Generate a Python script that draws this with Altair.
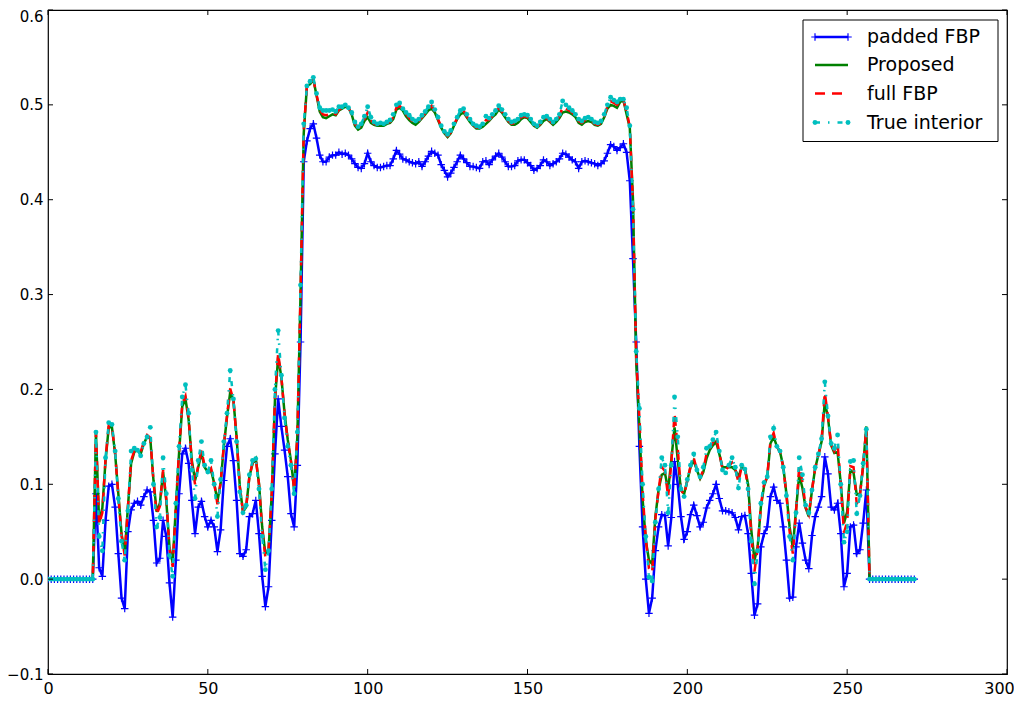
import altair as alt
import pandas as pd

# ---------------- data ----------------
x_index = list(range(272))

zeros_left = [0.0, 0.0, 0.0, 0.0, 0.0, 0.0, 0.0, 0.0, 0.0, 0.0, 0.0, 0.0, 0.0, 0.0, 0.0]
zeros_right = [0.0, 0.0, 0.0, 0.0, 0.0, 0.0, 0.0, 0.0, 0.0, 0.0, 0.0, 0.0, 0.0, 0.0, 0.0]

padded_core = [
    0.090, 0.012, 0.003, 0.062, 0.098, 0.100, 0.076, 0.027, -0.020, -0.031,
    0.050, 0.073, 0.080, 0.082, 0.078, 0.087, 0.094, 0.092, 0.062, 0.017,
    0.022, 0.062, 0.045, -0.004, -0.040, 0.020, 0.090, 0.132, 0.138, 0.122,
    0.083, 0.048, 0.076, 0.082, 0.066, 0.055, 0.062, 0.055, 0.029, 0.052,
    0.104, 0.140, 0.148, 0.125, 0.083, 0.027, 0.024, 0.031, 0.066, 0.069,
    0.083, 0.048, 0.003, -0.029, -0.008, 0.062, 0.132, 0.190, 0.161, 0.136,
    0.108, 0.069, 0.055, 0.120, 0.250, 0.440, 0.462, 0.475, 0.480, 0.465,
    0.447, 0.440, 0.440, 0.445, 0.447, 0.447, 0.450, 0.448, 0.449, 0.447,
    0.443, 0.438, 0.434, 0.433, 0.438, 0.449, 0.440, 0.436, 0.434, 0.434,
    0.435, 0.436, 0.436, 0.443, 0.452, 0.448, 0.443, 0.442, 0.440, 0.439,
    0.438, 0.440, 0.435, 0.440, 0.446, 0.451, 0.449, 0.447, 0.437, 0.431,
    0.424, 0.428, 0.434, 0.440, 0.447, 0.443, 0.439, 0.435, 0.435, 0.434,
    0.433, 0.440, 0.441, 0.437, 0.442, 0.446, 0.449, 0.445, 0.440, 0.435,
    0.435, 0.436, 0.441, 0.442, 0.442, 0.439, 0.436, 0.431, 0.433, 0.436,
    0.442, 0.440, 0.436, 0.438, 0.440, 0.443, 0.449, 0.448, 0.445, 0.442,
    0.440, 0.433, 0.440, 0.441, 0.440, 0.439, 0.438, 0.436, 0.438, 0.441,
    0.449, 0.458, 0.456, 0.452, 0.455, 0.459, 0.450, 0.420, 0.338, 0.250,
    0.140, 0.055, 0.000, -0.036, -0.020, 0.030, 0.055, 0.068, 0.067, 0.035,
    0.065, 0.124, 0.100, 0.066, 0.042, 0.050, 0.068, 0.078, 0.067, 0.055,
    0.060, 0.075, 0.083, 0.090, 0.100, 0.085, 0.072, 0.072, 0.071, 0.070,
    0.065, 0.052, 0.066, 0.067, 0.048, 0.006, -0.038, -0.026, 0.034, 0.048,
    0.055, 0.087, 0.097, 0.083, 0.080, 0.055, 0.020, -0.020, -0.019, 0.034,
    0.059, 0.038, 0.020, 0.011, 0.046, 0.066, 0.076, 0.087, 0.129, 0.111,
    0.076, 0.073, 0.080, 0.048, -0.008, 0.006, 0.055, 0.057, 0.027, 0.031,
    0.059, 0.094,
]

proposed_core = [
    0.154, 0.060, 0.075, 0.125, 0.160, 0.160, 0.132, 0.090, 0.048, 0.027,
    0.076, 0.122, 0.134, 0.136, 0.132, 0.143, 0.150, 0.148, 0.104, 0.071,
    0.080, 0.113, 0.083, 0.034, 0.017, 0.076, 0.133, 0.182, 0.190, 0.168,
    0.125, 0.104, 0.118, 0.133, 0.118, 0.113, 0.115, 0.101, 0.082, 0.101,
    0.140, 0.171, 0.197, 0.189, 0.150, 0.098, 0.071, 0.076, 0.108, 0.122,
    0.127, 0.101, 0.055, 0.027, 0.031, 0.090, 0.189, 0.234, 0.213, 0.175,
    0.147, 0.125, 0.095, 0.150, 0.300, 0.470, 0.520, 0.522, 0.527, 0.510,
    0.493, 0.487, 0.486, 0.488, 0.490, 0.489, 0.494, 0.496, 0.498, 0.497,
    0.490, 0.478, 0.474, 0.476, 0.483, 0.487, 0.481, 0.479, 0.478, 0.478,
    0.478, 0.480, 0.481, 0.485, 0.495, 0.497, 0.494, 0.488, 0.484, 0.481,
    0.479, 0.482, 0.486, 0.490, 0.494, 0.496, 0.492, 0.484, 0.476, 0.470,
    0.466, 0.470, 0.478, 0.485, 0.490, 0.492, 0.487, 0.482, 0.478, 0.475,
    0.475, 0.477, 0.480, 0.483, 0.487, 0.490, 0.495, 0.492, 0.487, 0.482,
    0.479, 0.479, 0.481, 0.485, 0.487, 0.486, 0.482, 0.478, 0.476, 0.479,
    0.483, 0.485, 0.482, 0.479, 0.482, 0.486, 0.492, 0.493, 0.492, 0.490,
    0.487, 0.481, 0.479, 0.482, 0.483, 0.482, 0.479, 0.478, 0.480, 0.487,
    0.496, 0.500, 0.499, 0.497, 0.503, 0.505, 0.490, 0.476, 0.400, 0.230,
    0.160, 0.085, 0.041, 0.020, 0.016, 0.066, 0.094, 0.110, 0.112, 0.094,
    0.126, 0.160, 0.126, 0.094, 0.090, 0.104, 0.118, 0.125, 0.115, 0.106,
    0.113, 0.127, 0.136, 0.141, 0.145, 0.132, 0.118, 0.118, 0.118, 0.118,
    0.115, 0.108, 0.118, 0.117, 0.100, 0.052, 0.020, 0.034, 0.076, 0.098,
    0.108, 0.143, 0.150, 0.140, 0.134, 0.119, 0.090, 0.055, 0.033, 0.073,
    0.110, 0.096, 0.075, 0.066, 0.094, 0.117, 0.131, 0.145, 0.187, 0.170,
    0.141, 0.133, 0.134, 0.101, 0.059, 0.071, 0.115, 0.112, 0.089, 0.090,
    0.119, 0.161,
]

full_core = [
    0.155, 0.058, 0.070, 0.127, 0.162, 0.161, 0.133, 0.088, 0.046, 0.025,
    0.076, 0.125, 0.135, 0.136, 0.134, 0.145, 0.152, 0.149, 0.103, 0.068,
    0.077, 0.115, 0.085, 0.032, 0.013, 0.077, 0.135, 0.185, 0.193, 0.170,
    0.122, 0.100, 0.120, 0.136, 0.119, 0.113, 0.117, 0.101, 0.079, 0.102,
    0.141, 0.172, 0.201, 0.189, 0.149, 0.097, 0.071, 0.077, 0.108, 0.123,
    0.127, 0.100, 0.053, 0.023, 0.031, 0.091, 0.191, 0.238, 0.213, 0.174,
    0.146, 0.124, 0.094, 0.151, 0.302, 0.473, 0.520, 0.523, 0.527, 0.511,
    0.495, 0.490, 0.489, 0.490, 0.492, 0.490, 0.495, 0.497, 0.499, 0.497,
    0.491, 0.480, 0.476, 0.478, 0.485, 0.492, 0.484, 0.480, 0.479, 0.479,
    0.479, 0.481, 0.482, 0.487, 0.497, 0.499, 0.495, 0.490, 0.486, 0.483,
    0.481, 0.483, 0.487, 0.491, 0.496, 0.499, 0.493, 0.485, 0.477, 0.471,
    0.467, 0.471, 0.479, 0.486, 0.492, 0.494, 0.488, 0.483, 0.479, 0.476,
    0.476, 0.478, 0.484, 0.484, 0.488, 0.492, 0.497, 0.493, 0.488, 0.483,
    0.480, 0.481, 0.483, 0.487, 0.488, 0.487, 0.483, 0.479, 0.477, 0.480,
    0.485, 0.486, 0.483, 0.480, 0.483, 0.488, 0.498, 0.496, 0.494, 0.492,
    0.488, 0.483, 0.481, 0.484, 0.485, 0.483, 0.480, 0.479, 0.481, 0.488,
    0.498, 0.504, 0.502, 0.500, 0.504, 0.505, 0.493, 0.477, 0.395, 0.235,
    0.170, 0.092, 0.043, 0.011, 0.007, 0.063, 0.094, 0.118, 0.114, 0.087,
    0.123, 0.175, 0.138, 0.094, 0.089, 0.104, 0.119, 0.128, 0.115, 0.107,
    0.115, 0.132, 0.138, 0.144, 0.150, 0.133, 0.116, 0.115, 0.119, 0.123,
    0.116, 0.102, 0.119, 0.116, 0.098, 0.046, 0.008, 0.032, 0.078, 0.100,
    0.108, 0.146, 0.154, 0.140, 0.134, 0.118, 0.089, 0.050, 0.027, 0.071,
    0.119, 0.103, 0.076, 0.068, 0.094, 0.117, 0.131, 0.146, 0.197, 0.171,
    0.142, 0.135, 0.143, 0.100, 0.049, 0.060, 0.119, 0.118, 0.079, 0.089,
    0.120, 0.160,
]

true_core = [
    0.155, 0.045, 0.030, 0.128, 0.165, 0.163, 0.135, 0.085, 0.040, 0.020,
    0.072, 0.135, 0.138, 0.136, 0.130, 0.143, 0.150, 0.160, 0.100, 0.055,
    0.065, 0.128, 0.090, 0.025, 0.003, 0.080, 0.140, 0.192, 0.205, 0.175,
    0.115, 0.085, 0.125, 0.145, 0.120, 0.113, 0.125, 0.100, 0.066, 0.105,
    0.145, 0.175, 0.220, 0.190, 0.145, 0.092, 0.070, 0.078, 0.110, 0.125,
    0.127, 0.095, 0.045, 0.010, 0.030, 0.095, 0.200, 0.262, 0.215, 0.170,
    0.140, 0.120, 0.090, 0.155, 0.310, 0.480, 0.520, 0.525, 0.529, 0.512,
    0.497, 0.494, 0.494, 0.494, 0.495, 0.493, 0.498, 0.498, 0.500, 0.497,
    0.492, 0.482, 0.477, 0.480, 0.488, 0.498, 0.487, 0.482, 0.480, 0.481,
    0.480, 0.482, 0.484, 0.490, 0.500, 0.502, 0.496, 0.492, 0.489, 0.485,
    0.483, 0.485, 0.489, 0.493, 0.498, 0.503, 0.495, 0.487, 0.478, 0.472,
    0.469, 0.473, 0.480, 0.487, 0.494, 0.496, 0.490, 0.485, 0.480, 0.478,
    0.477, 0.480, 0.488, 0.486, 0.490, 0.494, 0.499, 0.495, 0.490, 0.485,
    0.482, 0.483, 0.485, 0.489, 0.490, 0.489, 0.485, 0.480, 0.478, 0.482,
    0.487, 0.488, 0.485, 0.482, 0.485, 0.490, 0.504, 0.500, 0.497, 0.494,
    0.490, 0.485, 0.483, 0.486, 0.487, 0.485, 0.482, 0.481, 0.483, 0.490,
    0.500, 0.508, 0.505, 0.503, 0.506, 0.506, 0.497, 0.478, 0.390, 0.240,
    0.180, 0.100, 0.045, 0.002, -0.002, 0.060, 0.095, 0.128, 0.120, 0.070,
    0.120, 0.192, 0.150, 0.095, 0.087, 0.105, 0.120, 0.132, 0.115, 0.108,
    0.118, 0.138, 0.140, 0.147, 0.155, 0.135, 0.115, 0.112, 0.120, 0.128,
    0.118, 0.096, 0.120, 0.116, 0.095, 0.040, -0.005, 0.030, 0.080, 0.102,
    0.108, 0.150, 0.159, 0.140, 0.135, 0.118, 0.088, 0.045, 0.020, 0.070,
    0.128, 0.110, 0.078, 0.070, 0.094, 0.118, 0.132, 0.148, 0.208, 0.172,
    0.143, 0.138, 0.152, 0.100, 0.039, 0.050, 0.124, 0.125, 0.069, 0.088,
    0.122, 0.158,
]

padded_fbp = zeros_left + padded_core + zeros_right
proposed = zeros_left + proposed_core + zeros_right
full_fbp = zeros_left + full_core + zeros_right
true_interior = zeros_left + true_core + zeros_right

x_tick_values = [0, 50, 100, 150, 200, 250, 300]
y_tick_values = [-0.1, 0.0, 0.1, 0.2, 0.3, 0.4, 0.5, 0.6]

legend_labels = ["padded FBP", "Proposed", "full FBP", "True interior"]

df = pd.DataFrame({
    "x": x_index,
    "padded": padded_fbp,
    "proposed": proposed,
    "full": full_fbp,
    "true": true_interior,
})

# ---------------- styling ----------------
W, H = 959, 664
BLUE, GREEN, RED, CYAN = "#0000ff", "#008000", "#ff0000", "#00bfbf"
FONT = "DejaVu Sans"

xscale = alt.Scale(domain=[0, 300], nice=False, zero=False)
yscale = alt.Scale(domain=[-0.1, 0.6], nice=False, zero=False)

x_axis = alt.Axis(values=x_tick_values, ticks=False, domain=False, grid=False,
                  labelFontSize=16, labelFont=FONT, labelColor="black",
                  labelPadding=6, labelFlush=False, labelOverlap=False,
                  labelOffset={"condition": {"test": "datum.value >= 299", "value": -8}, "value": 0},
                  title=None, format="d")
y_axis = alt.Axis(values=y_tick_values, ticks=False, domain=False, grid=False,
                  labelFontSize=15, labelFont=FONT, labelColor="black",
                  labelPadding=5, labelFlush=False, labelOverlap=False,
                  labelOffset={"condition": {"test": "datum.value >= 0.59", "value": 6}, "value": 0},
                  title=None, format=".1f")


def X(field):
    return alt.X(f"{field}:Q", scale=xscale, axis=x_axis)


def Y(field):
    return alt.Y(f"{field}:Q", scale=yscale, axis=y_axis)


base = alt.Chart(df)

blue_line = base.mark_line(color=BLUE, strokeWidth=2.5, clip=True).encode(x=X("x"), y=Y("padded"))
blue_pts = base.mark_point(shape="M-1,0L1,0M0,-1L0,1", size=56, color=BLUE,
                           strokeWidth=1.2, filled=False, opacity=1, clip=True).encode(x=X("x"), y=Y("padded"))
green_line = base.mark_line(color=GREEN, strokeWidth=2.5, clip=True).encode(x=X("x"), y=Y("proposed"))
red_line = base.mark_line(color=RED, strokeWidth=2.5, strokeDash=[10, 7], clip=True).encode(x=X("x"), y=Y("full"))
cyan_line = base.mark_line(color=CYAN, strokeWidth=2.5, strokeDash=[5, 8, 1.5, 8], clip=True).encode(x=X("x"), y=Y("true"))
cyan_pts = base.mark_circle(color=CYAN, size=24, opacity=1, clip=True).encode(x=X("x"), y=Y("true"))

# inward tick marks on all four sides (matplotlib classic look)
xt = alt.Chart(pd.DataFrame({"t": x_tick_values}))
yt = alt.Chart(pd.DataFrame({"t": y_tick_values}))
TL = 5
ticks = [
    xt.mark_rule(color="black", strokeWidth=1).encode(x=X("t"), y=alt.value(H), y2=alt.value(H - TL)),
    xt.mark_rule(color="black", strokeWidth=1).encode(x=X("t"), y=alt.value(0), y2=alt.value(TL)),
    yt.mark_rule(color="black", strokeWidth=1).encode(y=Y("t"), x=alt.value(0), x2=alt.value(TL)),
    yt.mark_rule(color="black", strokeWidth=1).encode(y=Y("t"), x=alt.value(W), x2=alt.value(W - TL)),
]

# legend (drawn manually to reproduce matplotlib's line samples)
one = alt.Chart(pd.DataFrame({"k": [0]}))
LX0, LX1 = 755, 950
LY0, LY1 = 10, 131.5
SX0, SX1 = 767, 800
TX = 819
rows = [27, 55, 83.5, 112.5]
leg = [one.mark_rect(fill="white", stroke="black", strokeWidth=1).encode(
    x=alt.value(LX0), x2=alt.value(LX1), y=alt.value(LY0), y2=alt.value(LY1))]

# padded FBP sample
leg.append(one.mark_rule(color=BLUE, strokeWidth=2.5).encode(
    x=alt.value(SX0), x2=alt.value(SX1), y=alt.value(rows[0])))
for sx in (SX0, SX1):
    leg.append(one.mark_point(shape="M-1,0L1,0M0,-1L0,1", size=56, color=BLUE,
                              strokeWidth=1.2, filled=False, opacity=1).encode(
        x=alt.value(sx), y=alt.value(rows[0])))
# Proposed sample
leg.append(one.mark_rule(color=GREEN, strokeWidth=2.5).encode(
    x=alt.value(SX0), x2=alt.value(SX1), y=alt.value(rows[1])))
# full FBP sample
leg.append(one.mark_rule(color=RED, strokeWidth=2.5, strokeDash=[10, 7]).encode(
    x=alt.value(SX0), x2=alt.value(SX1), y=alt.value(rows[2])))
# True interior sample
leg.append(one.mark_rule(color=CYAN, strokeWidth=2.5, strokeDash=[5, 8, 1.5, 8]).encode(
    x=alt.value(SX0), x2=alt.value(SX1), y=alt.value(rows[3])))
for sx in (SX0, SX1):
    leg.append(one.mark_circle(color=CYAN, size=24, opacity=1).encode(
        x=alt.value(sx), y=alt.value(rows[3])))
for lab, ry in zip(legend_labels, rows):
    leg.append(one.mark_text(text=lab, align="left", baseline="middle", font=FONT,
                             fontSize=19, color="black").encode(
        x=alt.value(TX), y=alt.value(ry)))

chart = alt.layer(
    blue_line, blue_pts, green_line, red_line, cyan_line, cyan_pts,
    *ticks, *leg,
).properties(
    width=W, height=H,
    autosize=alt.AutoSizeParams(type="none"),
    padding={"left": 40, "top": 2, "right": 7, "bottom": 26},
    background="white",
).configure_view(
    stroke="black", strokeWidth=1.2, fill="white",
)

chart.save("out.html", embed_options={"renderer": "svg", "actions": False})
